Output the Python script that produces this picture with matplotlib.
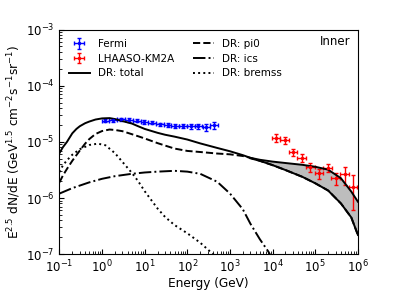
import numpy as np
import matplotlib
matplotlib.use("Agg")
import matplotlib.pyplot as plt

# Fermi data (GeV, GeV^1.5 cm^-2 s^-1 sr^-1)
fermi_E = [1.2, 1.8, 2.75, 4.25, 6.5, 9.8, 14.8, 22.5, 34.5, 52, 80, 120, 182, 280, 425]
fermi_F = [2.37e-5, 2.44e-5, 2.51e-5, 2.46e-5, 2.40e-5, 2.27e-5, 2.18e-5, 2.07e-5,
           2.01e-5, 1.93e-5, 1.91e-5, 1.88e-5, 1.91e-5, 1.81e-5, 1.99e-5]
fermi_err = [1.5e-6, 1.5e-6, 1.6e-6, 1.6e-6, 1.5e-6, 1.5e-6, 1.4e-6, 1.4e-6,
             1.4e-6, 1.4e-6, 1.5e-6, 1.6e-6, 1.9e-6, 2.3e-6, 2.9e-6]

# LHAASO-KM2A data
lhaaso_E = [1.2e4, 1.9e4, 3.0e4, 4.8e4, 7.7e4, 1.23e5, 1.94e5, 3.0e5, 4.9e5, 7.6e5]
lhaaso_F = [1.18e-5, 1.07e-5, 6.5e-6, 5.2e-6, 3.6e-6, 2.75e-6, 3.45e-6, 2.25e-6, 2.65e-6, 1.6e-6]
lhaaso_err = [1.8e-6, 1.6e-6, 1.0e-6, 8.5e-7, 6.5e-7, 5.5e-7, 6.0e-7, 5.5e-7, 9.5e-7, 1.0e-6]

# DR model components
total_E = [0.1, 0.12, 0.15, 0.2, 0.25, 0.3, 0.4, 0.5, 0.7, 1, 1.5, 2, 3, 5, 7, 10, 20, 30, 50,
           100, 200, 500, 1000, 2000, 3000]
total_F = [6.3e-6, 8.0e-6, 1.0e-5, 1.42e-5, 1.7e-5, 1.9e-5, 2.15e-5, 2.3e-5, 2.5e-5, 2.62e-5,
           2.65e-5, 2.55e-5, 2.35e-5, 2.12e-5, 1.9e-5, 1.7e-5, 1.45e-5, 1.34e-5, 1.24e-5,
           1.1e-5, 9.4e-6, 7.8e-6, 6.8e-6, 5.8e-6, 5.2e-6]

band_E = [3e3, 5e3, 1e4, 2e4, 5e4, 1e5, 2e5, 4e5, 7e5, 1e6]
band_hi = [5.2e-6, 4.8e-6, 4.45e-6, 4.2e-6, 3.9e-6, 3.6e-6, 3.2e-6, 2.25e-6, 1.3e-6, 8.6e-7]
band_lo = [5.1e-6, 4.6e-6, 3.85e-6, 3.15e-6, 2.38e-6, 1.83e-6, 1.36e-6, 8.0e-7, 4.5e-7, 2.2e-7]

pi0_E = [0.1, 0.12, 0.15, 0.2, 0.25, 0.3, 0.4, 0.5, 0.7, 1, 1.5, 2, 3, 5, 7, 10, 20, 30, 50,
         100, 200, 500, 1000, 2000, 3000]
pi0_F = [1.9e-6, 2.5e-6, 3.3e-6, 4.6e-6, 5.8e-6, 7.0e-6, 9.3e-6, 1.12e-5, 1.38e-5, 1.56e-5,
         1.66e-5, 1.63e-5, 1.55e-5, 1.37e-5, 1.26e-5, 1.15e-5, 9.5e-6, 8.6e-6, 7.6e-6,
         6.9e-6, 6.6e-6, 6.2e-6, 6.0e-6, 5.6e-6, 5.2e-6]

ics_E = [0.1, 0.2, 0.5, 1, 2, 5, 10, 20, 50, 100, 200, 500, 1000, 2000, 3000, 5000, 8000, 1e4]
ics_F = [1.2e-6, 1.5e-6, 1.9e-6, 2.2e-6, 2.45e-6, 2.7e-6, 2.85e-6, 2.95e-6, 3.05e-6,
         2.95e-6, 2.7e-6, 1.95e-6, 1.2e-6, 6.3e-7, 3.5e-7, 1.85e-7, 1.1e-7, 8e-8]

brem_E = [0.1, 0.12, 0.15, 0.2, 0.3, 0.5, 0.8, 1.2, 2, 3, 5, 7, 10, 20, 30, 50, 100, 200, 400, 500]
brem_F = [2.9e-6, 3.8e-6, 4.7e-6, 5.9e-6, 7.4e-6, 8.8e-6, 9.3e-6, 8.7e-6, 6.3e-6, 4.4e-6,
          2.8e-6, 2.0e-6, 1.32e-6, 6.5e-7, 4.6e-7, 3.3e-7, 2.35e-7, 1.6e-7, 1.0e-7, 8.5e-8]

fig = plt.figure(figsize=(3.99, 2.99), dpi=100)
ax = fig.add_axes([0.149, 0.150, 0.748, 0.751])

fe = np.array(fermi_E)
ax.errorbar(fe, fermi_F, yerr=fermi_err,
            xerr=[fe - fe / 10**0.09, fe * 10**0.09 - fe],
            fmt='.', color='b', ms=3, elinewidth=1, capsize=1.5, label='Fermi')
le = np.array(lhaaso_E)
ax.errorbar(le, lhaaso_F, yerr=lhaaso_err,
            xerr=[le - le / 10**0.1, le * 10**0.1 - le],
            fmt='.', color='r', ms=3, elinewidth=1, capsize=1.5, label='LHAASO-KM2A')

ax.fill_between(band_E, band_lo, band_hi, color='#bdbdbd', lw=0)
ax.plot(band_E, band_lo, 'k-', lw=1.4)
ax.plot(total_E + band_E, total_F + band_hi, 'k-', lw=1.4, label='DR: total')
ax.plot(pi0_E + band_E[1:], pi0_F + band_lo[1:], 'k--', lw=1.4, label='DR: pi0')
ax.plot(ics_E, ics_F, 'k-.', lw=1.4, label='DR: ics')
ax.plot(brem_E, brem_F, 'k:', lw=1.4, label='DR: bremss')

ax.set_xscale('log')
ax.set_yscale('log')
ax.set_xlim(0.1, 1e6)
ax.set_ylim(1e-7, 1e-3)
ax.tick_params(which='both', direction='in', labelsize=8.5)
ax.set_xlabel('Energy (GeV)', fontsize=8.7, labelpad=1)
ax.set_ylabel(r'E$^{2.5}$ dN/dE (GeV$^{1.5}$ cm$^{-2}$s$^{-1}$sr$^{-1}$)', fontsize=8.7, labelpad=2)

h, l = ax.get_legend_handles_labels()
order = [l.index(n) for n in ['Fermi', 'LHAASO-KM2A', 'DR: total', 'DR: pi0', 'DR: ics', 'DR: bremss']]
ax.legend([h[i] for i in order], [l[i] for i in order], ncol=2, loc='upper left',
          frameon=False, fontsize=7.5, columnspacing=1.8, labelspacing=0.45)
ax.text(0.975, 0.975, 'Inner', transform=ax.transAxes, ha='right', va='top', fontsize=8.5)

fig.savefig('out.png', dpi=100)
